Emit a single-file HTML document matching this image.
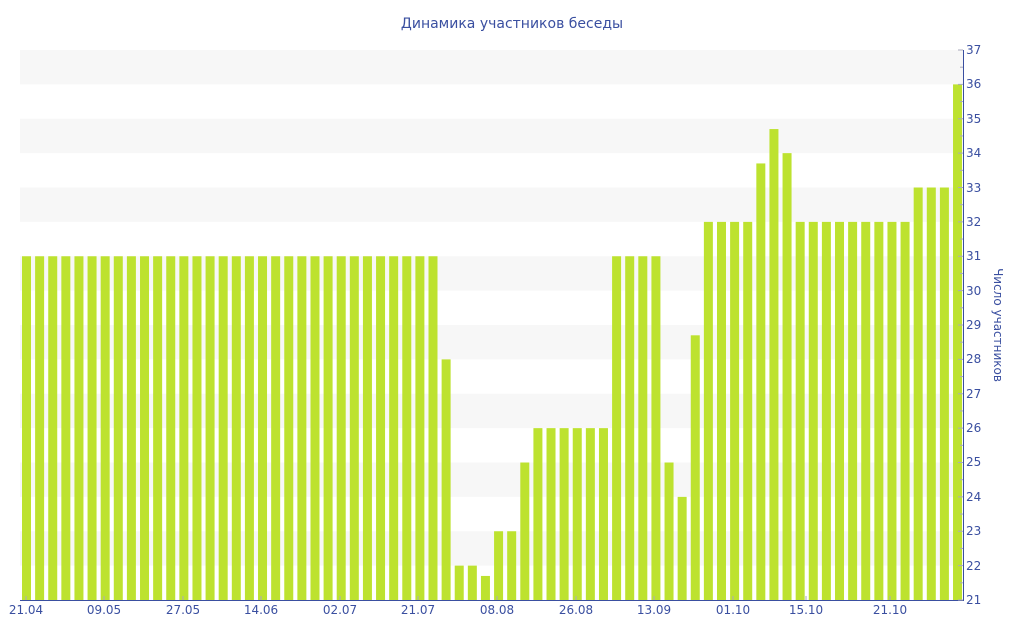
<!DOCTYPE html>
<html><head><meta charset="utf-8"><style>
body{margin:0;background:#fff;}
svg{display:block;font-family:"DejaVu Sans","Liberation Sans",sans-serif;}
</style></head><body>
<svg id="s" width="1024" height="640" viewBox="0 0 1024 640" xmlns="http://www.w3.org/2000/svg">
<g id="stripes"></g>
<g id="bars" fill="#bde22f"></g>
<line x1="20" y1="600.5" x2="964" y2="600.5" stroke="#3a4fa0" stroke-width="1"/>
<line x1="963.5" y1="50" x2="963.5" y2="600" stroke="#3a4fa0" stroke-width="1"/>
<g id="ticks" stroke="#aab" stroke-width="1"></g>
<text x="512" y="28" text-anchor="middle" font-size="14" fill="#3a4fa0">Динамика участников беседы</text>
<g font-size="12" fill="#3a4fa0" text-anchor="middle">
<text x="26" y="614">21.04</text><text x="104" y="614">09.05</text><text x="183" y="614">27.05</text>
<text x="261" y="614">14.06</text><text x="340" y="614">02.07</text><text x="418" y="614">21.07</text>
<text x="497" y="614">08.08</text><text x="576" y="614">26.08</text><text x="654" y="614">13.09</text>
<text x="733" y="614">01.10</text><text x="806" y="614">15.10</text><text x="890" y="614">21.10</text>
</g>
<g font-size="12" fill="#3a4fa0">
<text x="966" y="604">21</text><text x="966" y="570">22</text><text x="966" y="535">23</text><text x="966" y="501">24</text>
<text x="966" y="466">25</text><text x="966" y="432">26</text><text x="966" y="398">27</text><text x="966" y="363">28</text>
<text x="966" y="329">29</text><text x="966" y="295">30</text><text x="966" y="260">31</text><text x="966" y="226">32</text>
<text x="966" y="192">33</text><text x="966" y="157">34</text><text x="966" y="123">35</text><text x="966" y="88">36</text>
<text x="966" y="54">37</text>
</g>
<text transform="translate(994,325) rotate(90)" text-anchor="middle" font-size="12" fill="#3a4fa0">Число участников</text>
</svg>
<script>
var NS="http://www.w3.org/2000/svg";
function el(p,t,a){var e=document.createElementNS(NS,t);for(var k in a)e.setAttribute(k,a[k]);document.getElementById(p).appendChild(e);}
function y(v){return 600-(v-21)*34.375;}
for(var v=22;v<37;v+=2){el("stripes","rect",{x:20,y:y(v+1),width:943,height:34.375,fill:"#f7f7f7"});}
var vals=[];for(var i=0;i<32;i++)vals.push(31);
vals=vals.concat([28,22,22,21.7,23,23,25,26,26,26,26,26,26,31,31,31,31,25,24,28.7,32,32,32,32,33.7,34.7,34,32,32,32,32,32,32,32,32,32,33,33,33,36]);
for(var i=0;i<vals.length;i++){el("bars","rect",{x:(22+i*13.113).toFixed(2),y:y(vals[i]).toFixed(2),width:9,height:(600-y(vals[i])).toFixed(2)});}
for(var v=21;v<=37;v+=0.5){el("ticks","line",{x1:v%1?960:958,x2:963,y1:y(v),y2:y(v)});}
[26,104,183,261,340,418,497,576,654,733,806,890].forEach(function(x){el("ticks","line",{x1:x,x2:x,y1:596,y2:600});});
</script>
</body></html>
